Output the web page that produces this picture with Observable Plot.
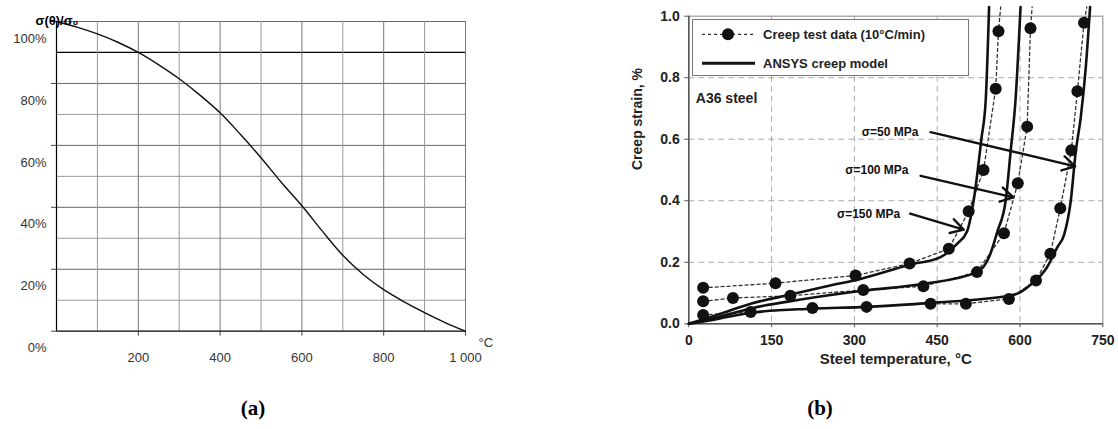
<!DOCTYPE html>
<html><head><meta charset="utf-8">
<script src="https://cdn.jsdelivr.net/npm/d3@7"></script>
<script src="https://cdn.jsdelivr.net/npm/@observablehq/plot@0.6"></script>
<style>
body{margin:0;background:#fff;}
#wrap{position:relative;width:1118px;height:429px;overflow:hidden;font-family:"Liberation Sans",Arial,sans-serif;background:#fff;}
#chartA,#chartB{position:absolute;top:0;}
#chartA{left:0}
#chartB{left:560px}
.cap{position:absolute;top:396px;width:60px;text-align:center;font-family:"Liberation Serif","Times New Roman",serif;font-weight:bold;font-size:21px;line-height:24px;color:#000;}
#legend{position:absolute;left:692px;top:19px;width:277px;height:57px;box-sizing:border-box;border:1px solid #777;background:#fff;}
</style></head>
<body><div id="wrap">
<div id="chartA"></div>
<div id="chartB"></div>
<div id="legend"></div>
<div class="cap" id="capA" style="left:223px"></div>
<div class="cap" id="capB" style="left:790px"></div>
</div>
<script>
// ---------- Panel (a) data ----------
const aTemps = [0,50,100,150,200,250,300,350,400,450,500,550,600,650,700,750,800,850,900,950,1000];
const aRatio = [100,98.2,96,93.3,90,86,81.5,76.3,70.5,63.5,56,48,40.5,32.3,24.5,18.3,13.4,9.5,6,2.8,0];
const aXTicks = [200,400,600,800,1000];
const aXTickLabels = ["200","400","600","800","1 000"];
const aYTicks = [0,20,40,60,80,100];
const aTitle = "σ(θ)/σ₀";
const aUnit = "°C";

// ---------- Panel (b) data ----------
const test150T = [26,157,302,400,471,507,534,556,561];
const test150S = [0.117,0.132,0.157,0.196,0.244,0.366,0.5,0.764,0.951];
const test100T = [26,80,184,316,425,522,571,596,613,619];
const test100S = [0.073,0.084,0.091,0.11,0.122,0.168,0.294,0.457,0.641,0.961];
const test50T = [26,112,224,322,438,502,580,629,655,673,693,704,716];
const test50S = [0.029,0.038,0.051,0.055,0.065,0.065,0.081,0.141,0.228,0.376,0.564,0.756,0.979];
const testTopT = [565,622,721];
const testTopS = [1.03,1.03,1.03];

const m150T = [0,50,112,184,250,311,400,456,486,504,516,530,538,544];
const m150S = [0,0.028,0.065,0.095,0.122,0.146,0.192,0.217,0.26,0.30,0.40,0.60,0.73,1.03];
const m100T = [0,50,112,200,318,426,522,544,559,574,583,592,601];
const m100S = [0,0.02,0.05,0.078,0.108,0.13,0.168,0.217,0.30,0.40,0.56,0.73,1.03];
const m50T = [0,50,112,224,322,438,582,601,618,649,668,680,692,701,710,719,727];
const m50S = [0,0.015,0.036,0.049,0.055,0.068,0.092,0.103,0.125,0.184,0.25,0.29,0.40,0.56,0.67,0.83,1.03];

const bXTicks = [0,150,300,450,600,750];
const bYTicks = [0,0.2,0.4,0.6,0.8,1.0];
const bXGrid = [150,300,450,600];
const bYGrid = [0.2,0.4,0.6,0.8];

const annLabels = ["σ=50 MPa","σ=100 MPa","σ=150 MPa"];
const annTextX = [416,398,383];
const annTextY = [0.623,0.498,0.358];
const arrowX1 = [438,420,401];
const arrowY1 = [0.623,0.481,0.358];
const arrowX2 = [700,588,498];
const arrowY2 = [0.512,0.411,0.306];

const legendLabels = ["Creep test data (10°C/min)","ANSYS creep model"];
const steelLabel = "A36 steel";
const bXLabel = "Steel temperature, °C";
const bYLabel = "Creep strain, %";
const captions = ["(a)","(b)"];

// ---------- Panel (a) ----------
const aData = aTemps.map((t,i)=>({t, r:aRatio[i]}));
const chartA = Plot.plot({
  width: 560, height: 380,
  marginLeft: 56, marginRight: 95, marginTop: 21, marginBottom: 49.3,
  x: {domain:[0,1000], axis:null},
  y: {domain:[0,100], axis:null},
  style: {fontFamily:"Liberation Sans, Arial, sans-serif", fontSize:"13px", background:"transparent", overflow:"visible"},
  marks: [
    Plot.ruleY(d3.range(10,101,10), {stroke: d => d===90 ? "#000" : (d % 20 === 0 ? "#666" : "#999"), strokeWidth: d => d===90 ? 1.2 : 1}),
    Plot.ruleX(d3.range(100,1001,100), {stroke: d => d % 200 === 0 ? "#777" : "#999", strokeWidth:1}),
    Plot.ruleX([0], {stroke:"#000", strokeWidth:1.2}),
    Plot.ruleY([0], {stroke:"#000", strokeWidth:1.2}),
    Plot.axisY({ticks: aYTicks, tickSize: 5, tickFormat: () => "", label: null, stroke:"#444"}),
    Plot.axisX({ticks: aXTicks, tickSize: 5, tickFormat: () => "", label: null, stroke:"#444"}),
    Plot.line(aData, {x:"t", y:"r", stroke:"#111", strokeWidth:1.4, curve:"monotone-x"}),
    Plot.text(aYTicks, {y: d=>d, frameAnchor:"left", dx:-10, dy:17, textAnchor:"end", text: d=>d+"%", fill:"#333", fontSize:13}),
    Plot.text(aXTicks, {x: d=>d, frameAnchor:"bottom", dy:31, text: (d,i)=>aXTickLabels[i], fill:"#333", fontSize:13}),
    Plot.text([aUnit], {frameAnchor:"bottom-right", dx:13, dy:16, textAnchor:"start", fill:"#333", fontSize:13}),
    Plot.text([aTitle], {frameAnchor:"top-left", dx:-21, dy:-6, textAnchor:"start", fill:"#000", fontSize:13, fontWeight:"bold"})
  ]
});
document.getElementById("chartA").appendChild(chartA);

// ---------- Panel (b) ----------
function pts(T,S,name){ return T.map((t,i)=>({t, s:S[i], name})); }
const dots = [...pts(test150T,test150S,"150"), ...pts(test100T,test100S,"100"), ...pts(test50T,test50S,"50")];
const testLines = [
  ...pts([...test150T, testTopT[0]], [...test150S, testTopS[0]], "150"),
  ...pts([...test100T, testTopT[1]], [...test100S, testTopS[1]], "100"),
  ...pts([...test50T, testTopT[2]], [...test50S, testTopS[2]], "50")
];
const models = [...pts(m150T,m150S,"150"), ...pts(m100T,m100S,"100"), ...pts(m50T,m50S,"50")];
const ann = annLabels.map((l,i)=>({l, x:annTextX[i], y:annTextY[i], x1:arrowX1[i], y1:arrowY1[i], x2:arrowX2[i], y2:arrowY2[i]}));

const chartB = Plot.plot({
  width: 558, height: 380,
  marginLeft: 128.3, marginRight: 15.7, marginTop: 15.7, marginBottom: 56.7,
  x: {domain:[0,750], axis:null},
  y: {domain:[0,1], axis:null},
  style: {fontFamily:"Liberation Sans, Arial, sans-serif", fontSize:"13px", background:"transparent", overflow:"visible"},
  marks: [
    Plot.ruleX(bXGrid, {stroke:"#aaa", strokeDasharray:"6,4", strokeWidth:1}),
    Plot.ruleY(bYGrid, {stroke:"#aaa", strokeDasharray:"6,4", strokeWidth:1}),
    Plot.frame({stroke:"#9a9a9a", strokeWidth:1.2}),
    Plot.ruleX([0], {stroke:"#555", strokeWidth:1.5}),
    Plot.ruleY([0], {stroke:"#555", strokeWidth:1.5}),
    Plot.axisY({ticks: bYTicks, tickSize: 4, tickPadding: 5, label: null, tickFormat: d3.format(".1f"), stroke:"#555", fill:"#222", fontWeight:"bold", fontSize:14}),
    Plot.axisX({ticks: bXTicks, tickSize: 4, tickPadding: 7, label: null, tickFormat: d=>String(d), stroke:"#555", fill:"#222", fontWeight:"bold", fontSize:14}),
    Plot.line(testLines, {x:"t", y:"s", z:"name", stroke:"#333", strokeWidth:1.3, strokeDasharray:"3,3"}),
    Plot.line(models, {x:"t", y:"s", z:"name", stroke:"#111", strokeWidth:2.6, curve:"monotone-x"}),
    Plot.dot(dots, {x:"t", y:"s", r:6, fill:"#111", stroke:"none"}),
    Plot.arrow(ann, {x1:"x1", y1:"y1", x2:"x2", y2:"y2", stroke:"#111", strokeWidth:2.4, headLength:9}),
    Plot.text(ann, {x:"x", y:"y", text:"l", textAnchor:"end", fontWeight:"bold", fontSize:12, fill:"#111"}),
    Plot.text([steelLabel], {frameAnchor:"top-left", dx:7, dy:77, textAnchor:"start", fontWeight:"bold", fontSize:14, fill:"#222"}),
    Plot.text([bYLabel], {frameAnchor:"left", dx:-51, rotate:-90, fontWeight:"bold", fontSize:14, fill:"#222"}),
    Plot.text([bXLabel], {frameAnchor:"bottom", dy:40, fontWeight:"bold", fontSize:15, fill:"#222"})
  ]
});
document.getElementById("chartB").appendChild(chartB);

// ---------- Legend ----------
const leg = d3.select("#legend").append("svg").attr("width",275).attr("height",55)
  .style("font-family","Liberation Sans, Arial, sans-serif");
const rows = [14.3, 43.3];
leg.append("line").attr("x1",9).attr("x2",62).attr("y1",rows[0]).attr("y2",rows[0])
  .attr("stroke","#333").attr("stroke-width",1.3).attr("stroke-dasharray","3,3");
leg.append("circle").attr("cx",35).attr("cy",rows[0]).attr("r",6).attr("fill","#111");
leg.append("line").attr("x1",9).attr("x2",62).attr("y1",rows[1]).attr("y2",rows[1])
  .attr("stroke","#111").attr("stroke-width",3);
legendLabels.forEach((l,i)=>{
  leg.append("text").attr("x",70).attr("y",rows[i]).attr("dy","0.35em")
    .attr("font-size",13).attr("font-weight","bold").attr("fill","#222").text(l);
});

document.getElementById("capA").textContent = captions[0];
document.getElementById("capB").textContent = captions[1];
</script>
</body></html>
